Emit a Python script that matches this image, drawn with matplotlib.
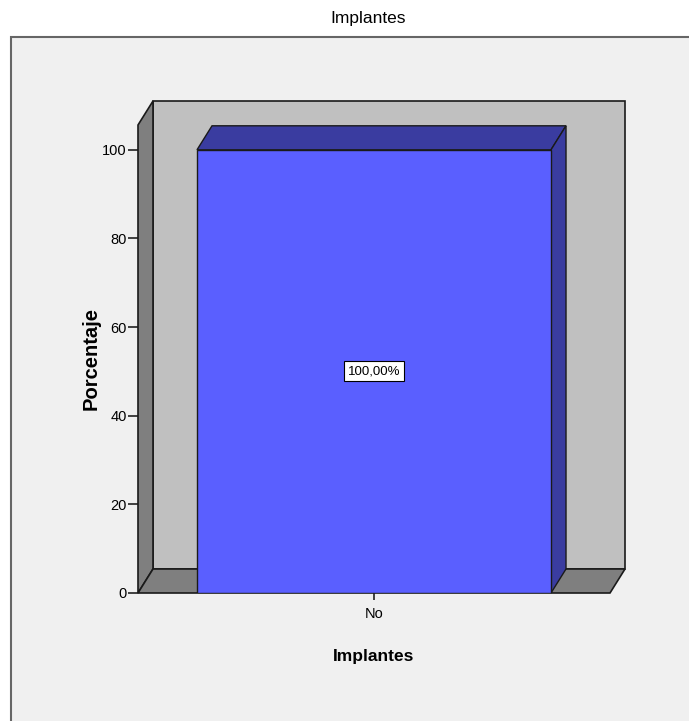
import matplotlib.pyplot as plt
from matplotlib import font_manager
from matplotlib.patches import Polygon, Rectangle

# datos
categorias = ['No']
porcentajes = [100.0]
etiquetas = ['100,00%']
ticks_y = [0, 20, 40, 60, 80, 100]

instaladas = {f.name for f in font_manager.fontManager.ttflist}
base = 'Liberation Sans Narrow' if 'Liberation Sans Narrow' in instaladas else 'Liberation Sans'
plt.rcParams['font.family'] = [base, 'DejaVu Sans']
fs = 11 if base.endswith('Narrow') else 10.5

fig = plt.figure(figsize=(6.89, 7.21), dpi=100)
W, H = 689, 721

# fondo gris del panel
fig.patches.append(Rectangle((11 / W, -0.1), 1.2, 1 - 37 / H + 0.1, transform=fig.transFigure,
                             facecolor='#f0f0f0', edgecolor='#666666', linewidth=1.5, zorder=-5))

ax = fig.add_axes([138 / W, 1 - 593 / H, 472 / W, 468 / H])
ax.set_xlim(-0.5, 0.5)
ax.set_ylim(0, 105.6)
ax.patch.set_visible(False)
for s in ax.spines.values():
    s.set_visible(False)

# profundidad del efecto 3D (en unidades de datos)
dx, dy = 0.0318, 5.42
x0, x1 = -0.5, 0.5
ytop = 105.6
ec = '#1a1a1a'

# pared del fondo, pared izquierda y suelo
ax.add_patch(Polygon([(x0 + dx, dy), (x1 + dx, dy), (x1 + dx, ytop + dy), (x0 + dx, ytop + dy)],
                     closed=True, facecolor='#c0c0c0', edgecolor=ec, lw=1.2, clip_on=False, zorder=1))
ax.add_patch(Polygon([(x0, 0), (x0 + dx, dy), (x0 + dx, ytop + dy), (x0, ytop)],
                     closed=True, facecolor='#7f7f7f', edgecolor=ec, lw=1.2, clip_on=False, zorder=2))
ax.add_patch(Polygon([(x0, 0), (x0 + dx, dy), (x1 + dx, dy), (x1, 0)],
                     closed=True, facecolor='#7f7f7f', edgecolor=ec, lw=1.2, clip_on=False, zorder=2))

# barras
ancho = 0.75
xs = list(range(len(categorias)))
for x, v in zip(xs, porcentajes):
    l, r = x - ancho / 2, x + ancho / 2
    ax.add_patch(Polygon([(l, v), (l + dx, v + dy), (r + dx, v + dy), (r, v)],
                         closed=True, facecolor='#3a3ca0', edgecolor=ec, lw=1.0, clip_on=False, zorder=3))
    ax.add_patch(Polygon([(r, 0), (r + dx, dy), (r + dx, v + dy), (r, v)],
                         closed=True, facecolor='#3a3ca0', edgecolor=ec, lw=1.0, clip_on=False, zorder=3))
bars = ax.bar(xs, porcentajes, width=ancho, color='#5a5fff', edgecolor=ec, linewidth=1.0, zorder=4)

for b, txt in zip(bars, etiquetas):
    ax.text(b.get_x() + b.get_width() / 2, b.get_height() / 2, txt, ha='center', va='center',
            fontsize=9.5, color='black', zorder=5,
            bbox=dict(boxstyle='square,pad=0.3', facecolor='white', edgecolor='black', linewidth=0.8))

ax.set_yticks(ticks_y)
ax.set_yticklabels([str(t) for t in ticks_y], fontsize=fs)
ax.set_xticks(xs)
ax.set_xticklabels(categorias, fontsize=fs)
ax.tick_params(axis='y', length=7, width=1.2, color='#222222', pad=1)
ax.tick_params(axis='x', length=5, width=1.2, color='#222222', pad=5)

ax.set_ylabel('Porcentaje', fontsize=14.5, fontweight='bold', family=['Liberation Sans', 'DejaVu Sans'])
ax.yaxis.label.set_va('center')
ax.yaxis.set_label_coords((91 - 138) / 472, (593 - 359) / 468)
ax.set_xlabel('Implantes', fontsize=12.5, fontweight='bold', labelpad=20)
fig.text(368 / W, 1 - 19 / H, 'Implantes', ha='center', va='center', fontsize=12.5)

fig.savefig('out.png', dpi=100, facecolor='white')
